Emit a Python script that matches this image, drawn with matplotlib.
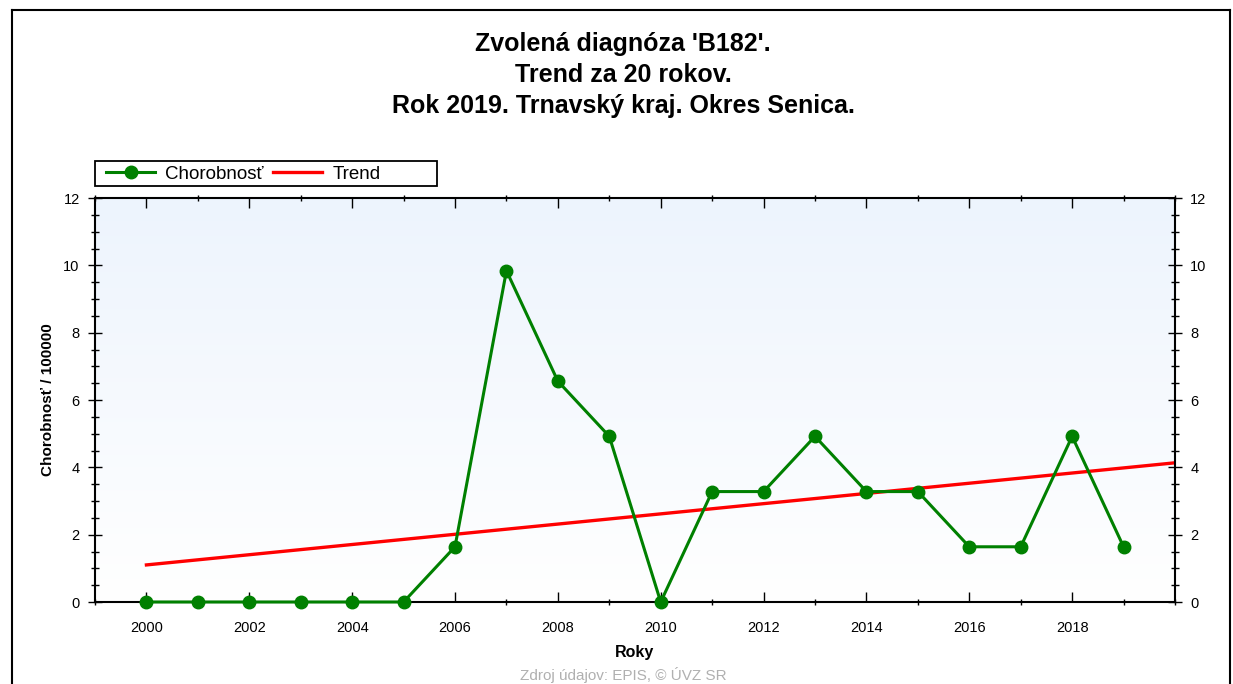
import numpy as np
import matplotlib
matplotlib.use("Agg")
import matplotlib.pyplot as plt
from matplotlib.lines import Line2D
from matplotlib.patches import Rectangle
from matplotlib.ticker import MultipleLocator

plt.rcParams['font.family'] = ['Liberation Sans', 'DejaVu Sans']

# data
roky = [2000, 2001, 2002, 2003, 2004, 2005, 2006, 2007, 2008, 2009,
        2010, 2011, 2012, 2013, 2014, 2015, 2016, 2017, 2018, 2019]
chorobnost = [0, 0, 0, 0, 0, 0, 1.64, 9.84, 6.56, 4.92,
              0, 3.28, 3.28, 4.92, 3.28, 3.28, 1.64, 1.64, 4.92, 1.64]
trend_roky = [2000, 2020]

titul = "Zvolená diagnóza 'B182'.\nTrend za 20 rokov.\nRok 2019. Trnavský kraj. Okres Senica."

# linearny trend
k, q = np.polyfit(roky, chorobnost, 1)
trend = [k * r + q for r in trend_roky]

fig = plt.figure(figsize=(12.33, 6.84), dpi=100)
W, H = 1233, 684
ax = fig.add_axes([95 / W, 1 - 602 / H, (1175 - 95) / W, (602 - 198) / H])

# gradient pozadia
grad = np.linspace(0, 1, 256).reshape(-1, 1)
ax.imshow(grad, extent=[1999, 2020, 0, 12], aspect='auto', origin='lower',
          cmap=matplotlib.colors.LinearSegmentedColormap.from_list('g', ['#ffffff', '#edf4fd']),
          zorder=0)

ax.plot(trend_roky, trend, color='red', lw=2.4, zorder=2)
ax.plot(roky, chorobnost, color='#008000', lw=2.2, marker='o', markersize=9, zorder=3,
        clip_on=False)

ax.set_xlim(1999, 2020)
ax.set_ylim(0, 12)
ax.xaxis.set_minor_locator(MultipleLocator(1))
ax.yaxis.set_major_locator(MultipleLocator(2))
ax.yaxis.set_minor_locator(MultipleLocator(0.5))
ax.set_xticks(range(2000, 2020, 2))
ax.tick_params(axis='x', which='major', direction='in', length=7, width=1, top=True,
               labelsize=10.5, pad=14)
ax.tick_params(axis='x', which='minor', direction='inout', length=5, width=1, top=True)
ax.tick_params(axis='y', which='major', direction='inout', length=10, width=1,
               left=True, right=True, labelleft=True, labelright=True, labelsize=10.5, pad=6)
ax.tick_params(axis='y', which='minor', direction='inout', length=6, width=1,
               left=True, right=True)
for s in ax.spines.values():
    s.set_linewidth(1.5)

ax.set_xlabel('Roky', fontsize=11.5, fontweight='bold', labelpad=7)
ax.set_ylabel('Chorobnosť / 100000', fontsize=11, fontweight='bold', labelpad=6)

fig.text(623 / W, 1 - 32 / H, titul, ha='center', va='top', fontsize=18,
         fontweight='bold', linespacing=1.38)

# legenda
h1 = Line2D([], [], color='#008000', lw=2.2, marker='o', markersize=9)
h2 = Line2D([], [], color='red', lw=2.4)
leg = fig.legend([h1, h2], ['Chorobnosť', 'Trend'], loc='center left',
                 bbox_to_anchor=(97 / W, 1 - 174 / H),
                 ncol=2, fontsize=13.5, frameon=False, borderpad=0.0,
                 handlelength=2.6, columnspacing=0.5, handletextpad=0.55)
fig.add_artist(Rectangle((95 / W, 1 - 186 / H), (437 - 95) / W, 25 / H,
                         transform=fig.transFigure, fill=False, edgecolor='black', lw=1.3))

fig.text(623 / W, 1 / H, 'Zdroj údajov: EPIS, © ÚVZ SR', ha='center', va='bottom',
         fontsize=11, color='#b0b0b0')

# ram
fig.add_artist(Line2D([12 / W, 12 / W], [0, 1 - 10 / H], color='black', lw=1.5))
fig.add_artist(Line2D([12 / W, 1230 / W], [1 - 10 / H, 1 - 10 / H], color='black', lw=1.5))
fig.add_artist(Line2D([1230 / W, 1230 / W], [0, 1 - 10 / H], color='black', lw=1.5))

fig.savefig('out.png', dpi=100)
